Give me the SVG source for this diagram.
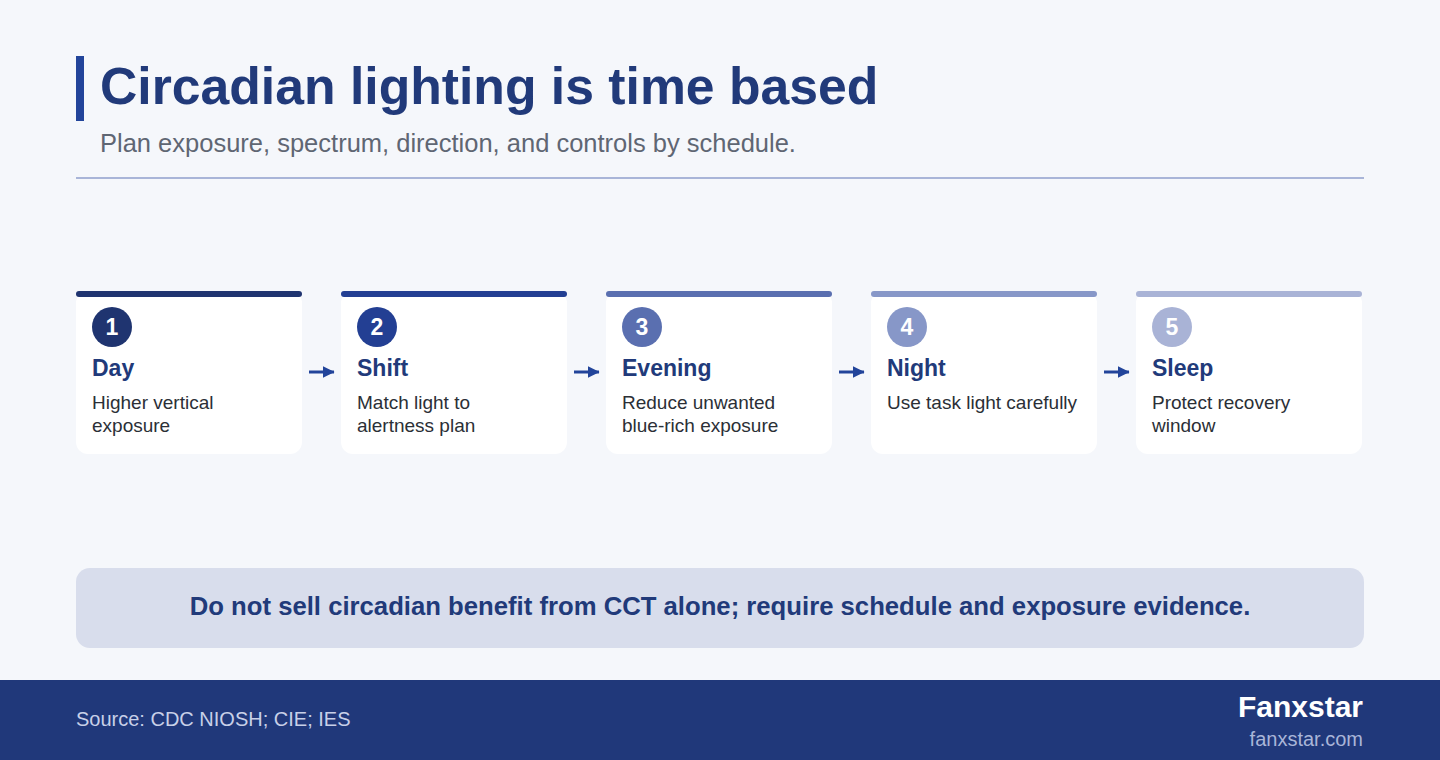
<svg xmlns="http://www.w3.org/2000/svg" width="1440" height="760" viewBox="0 0 1440 760">
<defs>
<style>
.t{font-family:"Liberation Sans",Arial,sans-serif}
.card{fill:#ffffff}
.num{font-family:"Liberation Sans",Arial,sans-serif;font-weight:bold;font-size:23px;fill:#ffffff;text-anchor:middle}
.ttl{font-family:"Liberation Sans",Arial,sans-serif;font-weight:bold;font-size:23px;fill:#213a7a}
.desc{font-family:"Liberation Sans",Arial,sans-serif;font-size:19px;fill:#2b2f36}
.conn{stroke:#22449a;stroke-width:3;fill:none}
</style>
<marker id="ah" viewBox="0 0 10 10" refX="9.5" refY="5" markerWidth="4" markerHeight="4" orient="auto" markerUnits="strokeWidth">
<path d="M0,0 L10,5 L0,10 z" fill="#22449a"/>
</marker>
</defs>
<rect width="1440" height="760" fill="#f5f7fb"/>
<g id="header">
<rect x="76" y="56" width="8" height="65" fill="#22449a"/>
<text class="t" x="100" y="104" font-size="51.7" font-weight="bold" fill="#213a7a">Circadian lighting is time based</text>
<text class="t" x="100" y="152" font-size="25.5" fill="#5f6673">Plan exposure, spectrum, direction, and controls by schedule.</text>
<rect x="76" y="177" width="1288" height="2" fill="#a9b5d8"/>
</g>
<g id="node1">
<rect class="card" x="76" y="291" width="226" height="163" rx="12"/>
<rect x="76" y="291" width="226" height="6" rx="3" fill="#1f3470"/>
<circle cx="112" cy="327" r="20" fill="#1f3470"/>
<text class="num" x="112" y="335">1</text>
<text class="ttl" x="92" y="376">Day</text>
<text class="desc" x="92" y="409">Higher vertical</text>
<text class="desc" x="92" y="432">exposure</text>
</g>
<g id="node2">
<rect class="card" x="341" y="291" width="226" height="163" rx="12"/>
<rect x="341" y="291" width="226" height="6" rx="3" fill="#233f93"/>
<circle cx="377" cy="327" r="20" fill="#233f93"/>
<text class="num" x="377" y="335">2</text>
<text class="ttl" x="357" y="376">Shift</text>
<text class="desc" x="357" y="409">Match light to</text>
<text class="desc" x="357" y="432">alertness plan</text>
</g>
<g id="node3">
<rect class="card" x="606" y="291" width="226" height="163" rx="12"/>
<rect x="606" y="291" width="226" height="6" rx="3" fill="#5a6fb0"/>
<circle cx="642" cy="327" r="20" fill="#5a6fb0"/>
<text class="num" x="642" y="335">3</text>
<text class="ttl" x="622" y="376">Evening</text>
<text class="desc" x="622" y="409">Reduce unwanted</text>
<text class="desc" x="622" y="432">blue-rich exposure</text>
</g>
<g id="node4">
<rect class="card" x="871" y="291" width="226" height="163" rx="12"/>
<rect x="871" y="291" width="226" height="6" rx="3" fill="#8797c8"/>
<circle cx="907" cy="327" r="20" fill="#8797c8"/>
<text class="num" x="907" y="335">4</text>
<text class="ttl" x="887" y="376">Night</text>
<text class="desc" x="887" y="409">Use task light carefully</text>
</g>
<g id="node5">
<rect class="card" x="1136" y="291" width="226" height="163" rx="12"/>
<rect x="1136" y="291" width="226" height="6" rx="3" fill="#a9b3d6"/>
<circle cx="1172" cy="327" r="20" fill="#a9b3d6"/>
<text class="num" x="1172" y="335">5</text>
<text class="ttl" x="1152" y="376">Sleep</text>
<text class="desc" x="1152" y="409">Protect recovery</text>
<text class="desc" x="1152" y="432">window</text>
</g>
<g id="connectors">
<line class="conn" x1="309" y1="372" x2="334" y2="372" marker-end="url(#ah)"/>
<line class="conn" x1="574" y1="372" x2="599" y2="372" marker-end="url(#ah)"/>
<line class="conn" x1="839" y1="372" x2="864" y2="372" marker-end="url(#ah)"/>
<line class="conn" x1="1104" y1="372" x2="1129" y2="372" marker-end="url(#ah)"/>
</g>
<g id="callout">
<rect x="76" y="568" width="1288" height="80" rx="14" fill="#d8ddec"/>
<text class="t" x="720" y="615" font-size="25.7" font-weight="bold" fill="#213a7a" text-anchor="middle">Do not sell circadian benefit from CCT alone; require schedule and exposure evidence.</text>
</g>
<g id="footer">
<rect x="0" y="680" width="1440" height="80" fill="#20387a"/>
<text class="t" x="76" y="726" font-size="20" fill="#c8d0e8">Source: CDC NIOSH; CIE; IES</text>
<text class="t" x="1363" y="717" font-size="30" font-weight="bold" fill="#ffffff" text-anchor="end">Fanxstar</text>
<text class="t" x="1363" y="746" font-size="20" fill="#a9b5d8" text-anchor="end">fanxstar.com</text>
</g>
</svg>
